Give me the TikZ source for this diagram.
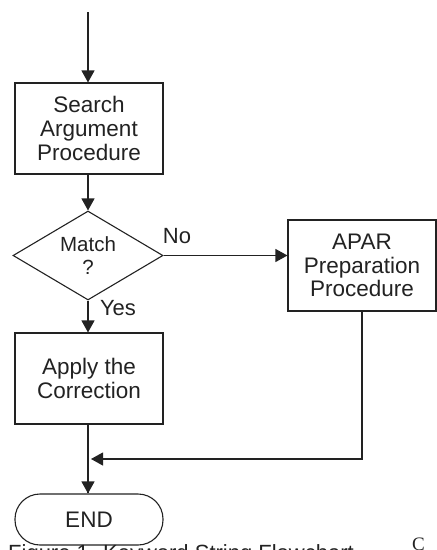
\documentclass[tikz,border=0pt]{standalone}
\usepackage{fontspec}
\setmainfont{Liberation Sans}
\newfontfamily\serifcap{Liberation Serif}
\usetikzlibrary{shapes.geometric,arrows.meta}
\definecolor{ink}{HTML}{222222}
\tikzset{
  procbox/.style={draw=ink, line width=1.1pt, rectangle, minimum width=148pt, minimum height=91pt, inner sep=0pt, align=center, text=ink, font=\fontsize{22.5}{23.8}\selectfont},
  decision/.style={draw=ink, line width=1.1pt, diamond, aspect=1.69, minimum width=150pt, minimum height=89pt, inner sep=0pt, align=center, text=ink, font=\fontsize{20.5}{23}\selectfont},
  terminal/.style={draw=ink, line width=1.1pt, rectangle, rounded corners=25pt, minimum width=148pt, minimum height=51pt, inner sep=0pt, align=center, text=ink, font=\fontsize{22.5}{24}\selectfont},
  flow/.style={draw=ink, line width=1.1pt, -{Triangle[length=12pt,width=13pt]}},
  plain/.style={draw=ink, line width=1.1pt},
  lbl/.style={text=ink, inner sep=0pt, font=\fontsize{22}{24}\selectfont},
}
\begin{document}
\begin{tikzpicture}[x=1pt,y=-1pt]
\useasboundingbox (0,0) rectangle (437,550);
\clip (0,0) rectangle (437,550);
\coordinate (start) at (88,12);
\node[procbox] (search) at (89,128.5) {Search\\Argument\\Procedure};
\node[decision] (match) at (88,255.5) {Match\\?};
\node[procbox] (apar) at (362,265.5) {APAR\\Preparation\\Procedure};
\node[procbox] (apply) at (89,378.5) {Apply the\\Correction};
\node[terminal] (end) at (89,519.5) {END};
\coordinate (merge) at (88,459);
\coordinate (corner) at (apar.south |- merge);

\draw[flow] (start) -- (start |- search.north);
\draw[flow] (search.south -| match.north) -- (match.north);
\draw[flow] (match.east) -- (match.east -| apar.west);
\draw[flow] (match.south) -- (match.south |- apply.north);
\draw[plain] (apply.south -| merge) -- (merge) -- (merge |- end.north);
\draw[flow] (merge |- end.north) ++(0,-1) -- (merge |- end.north);
\draw[flow, shorten >=3pt] (apar.south) -- (corner) -- (merge);

\node[lbl] (no) at (177,236) {No};
\node[lbl] (yes) at (118,308) {Yes};

\node[lbl, anchor=base west] (caption) at (8,560) {Figure 1. Keyword String Flowchart};
\node[lbl, anchor=base west, font=\serifcap\fontsize{19}{22}\selectfont] (cmark) at (412,550) {C};
\end{tikzpicture}
\end{document}
